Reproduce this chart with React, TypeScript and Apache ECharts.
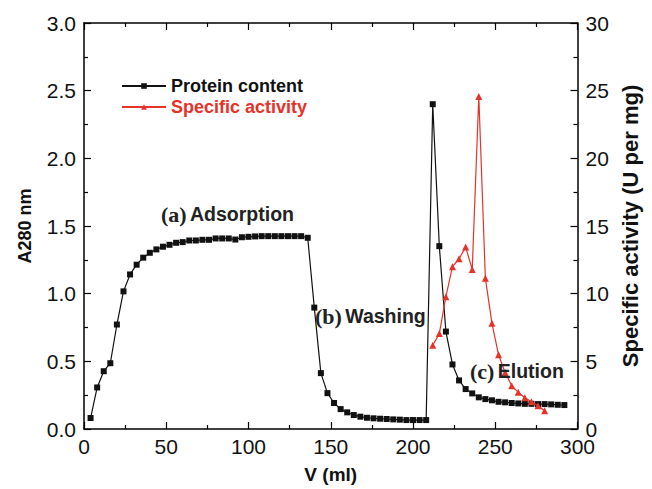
import React, { useEffect, useRef } from "react";
import * as echarts from "echarts";

const volumes: number[] = [];
for (let v = 4; v <= 292; v += 4) volumes.push(v);

const proteinContent = [
  0.081, 0.307, 0.427, 0.486, 0.772, 1.017, 1.142, 1.214, 1.266, 1.302,
  1.327, 1.347, 1.361, 1.376, 1.381, 1.393, 1.393, 1.398, 1.398, 1.408,
  1.408, 1.408, 1.4, 1.417, 1.42, 1.423, 1.425, 1.425, 1.425, 1.425,
  1.425, 1.425, 1.425, 1.413, 0.897, 0.413, 0.265, 0.192, 0.147, 0.123,
  0.103, 0.091, 0.083, 0.079, 0.076, 0.074, 0.071, 0.069, 0.066, 0.066,
  0.066, 0.066, 2.4, 1.351, 0.72, 0.477, 0.359, 0.295, 0.263, 0.234,
  0.221, 0.212, 0.201, 0.197, 0.192, 0.189, 0.186, 0.186, 0.184, 0.184,
  0.182, 0.179, 0.177,
];

const activityVolumes = [212, 216, 220, 224, 228, 232, 236, 240, 244, 248, 252, 256, 260, 264, 268, 272, 276, 280];
const specificActivity = [6.19, 7.05, 9.78, 11.99, 12.58, 13.44, 11.79, 24.57, 11.13, 7.81, 5.48, 4.18, 3.19, 2.71, 2.31, 2.01, 1.72, 1.35];

const leftTicks = ["0.0", "0.5", "1.0", "1.5", "2.0", "2.5", "3.0"];

const RED = "#e5332a";
const SANS = "'Liberation Sans', Arial, Helvetica, sans-serif";
const SERIF = "'Liberation Serif', 'Times New Roman', serif";

export default function App() {
  const ref = useRef<HTMLDivElement>(null);
  useEffect(() => {
    if (!ref.current) return;
    const chart = echarts.init(ref.current, undefined, { renderer: "svg" });
    const axisLine = () => ({ show: true, onZero: false, lineStyle: { color: "#000", width: 1.5 } });
    const tick = () => ({ show: true, inside: true, length: 7, lineStyle: { color: "#000", width: 1.2 } });
    const minorTick = () => ({ show: true, splitNumber: 2, length: 4, lineStyle: { color: "#000", width: 1.2 } });
    const label = { color: "#111", fontSize: 21, fontFamily: SANS };
    const nameStyle = { color: "#111", fontSize: 18, fontWeight: "bold" as const, fontFamily: SANS };
    const annot = (x: number, y: number, tag: string, word: string) => ({
      type: "text",
      left: x,
      top: y,
      z: 100,
      style: {
        text: `{a|${tag}} {b|${word}}`,
        rich: {
          a: { fontFamily: SERIF, fontWeight: "bold", fontSize: 22, fill: "#222" },
          b: { fontFamily: SANS, fontWeight: "bold", fontSize: 19.5, fill: "#222" },
        },
      },
    });
    chart.setOption({
      animation: false,
      backgroundColor: "#fff",
      grid: { left: 84, right: 74.5, top: 23, bottom: 59, containLabel: false },
      legend: {
        orient: "vertical",
        left: 116,
        top: 72,
        itemWidth: 44,
        itemHeight: 7,
        itemGap: 3,
        data: [
          { name: "Protein content", textStyle: { color: "#111" } },
          { name: "Specific activity", textStyle: { color: RED } },
        ],
        textStyle: { fontSize: 18, fontWeight: "bold", fontFamily: SANS },
      },
      xAxis: [
        {
          type: "value",
          min: 0,
          max: 300,
          interval: 50,
          position: "bottom",
          name: "V (ml)",
          nameLocation: "middle",
          nameGap: 36,
          nameTextStyle: { ...nameStyle, fontSize: 19 },
          axisLine: axisLine(),
          axisTick: tick(),
          minorTick: minorTick(),
          splitLine: { show: false },
          axisLabel: { ...label, margin: 7 },
        },
        {
          type: "value",
          min: 0,
          max: 300,
          interval: 50,
          position: "top",
          axisLine: axisLine(),
          axisTick: tick(),
          minorTick: minorTick(),
          splitLine: { show: false },
          axisLabel: { show: false },
        },
      ],
      yAxis: [
        {
          type: "value",
          min: 0,
          max: 3,
          interval: 0.5,
          position: "left",
          name: "A280 nm",
          nameLocation: "middle",
          nameGap: 50,
          nameTextStyle: nameStyle,
          axisLine: axisLine(),
          axisTick: tick(),
          minorTick: minorTick(),
          splitLine: { show: false },
          axisLabel: { ...label, margin: 8, formatter: (v: number) => leftTicks[Math.round(v / 0.5)] ?? v.toFixed(1) },
        },
        {
          type: "value",
          min: 0,
          max: 30,
          interval: 5,
          position: "right",
          name: "Specific activity (U per mg)",
          nameLocation: "middle",
          nameGap: 38,
          nameTextStyle: { ...nameStyle, fontSize: 22 },
          axisLine: axisLine(),
          axisTick: tick(),
          minorTick: minorTick(),
          splitLine: { show: false },
          axisLabel: { ...label, margin: 8 },
        },
      ],
      series: [
        {
          name: "Protein content",
          type: "line",
          xAxisIndex: 0,
          yAxisIndex: 0,
          data: volumes.map((v, i) => [v, proteinContent[i]]),
          symbol: "rect",
          symbolSize: 6,
          lineStyle: { color: "#111", width: 1.2 },
          itemStyle: { color: "#111" },
          z: 3,
        },
        {
          name: "Specific activity",
          type: "line",
          xAxisIndex: 0,
          yAxisIndex: 1,
          data: activityVolumes.map((v, i) => [v, specificActivity[i]]),
          symbol: "triangle",
          symbolSize: 7,
          lineStyle: { color: RED, width: 1.2 },
          itemStyle: { color: RED },
          z: 4,
        },
      ],
      graphic: [
        annot(161, 203, "(a)", "Adsorption"),
        annot(315, 305, "(b)", "Washing"),
        annot(470, 360, "(c)", "Elution"),
      ],
    });
    return () => chart.dispose();
  }, []);
  return <div ref={ref} style={{ position: "absolute", left: 0, top: 0, width: 652, height: 489 }} />;
}
